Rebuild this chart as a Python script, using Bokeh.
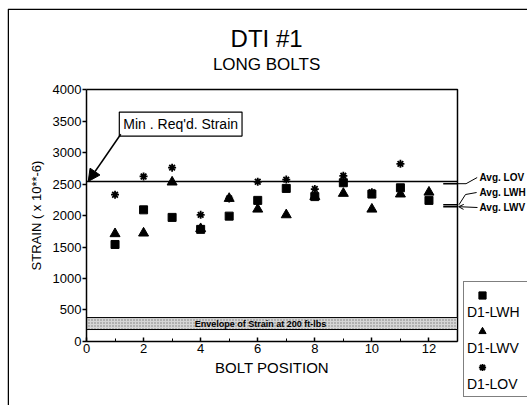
from bokeh.plotting import figure
from bokeh.models import (Label, Arrow, NormalHead, OpenHead, Legend, LegendItem,
                          FixedTicker, Range1d)
from bokeh.embed import file_html
from bokeh.resources import INLINE

nan = float("nan")

bolt_position = [1, 2, 3, 4, 5, 6, 7, 8, 9, 10, 11, 12]
d1_lwh = [1540, 2090, 1970, 1780, 1990, 2240, 2430, 2300, 2520, 2340, 2440, 2240]
d1_lwv = [1710, 1720, 2530, 1790, 2270, 2100, 2010, 2300, 2350, 2100, 2340, 2370]
d1_lov = [2330, 2620, 2760, 2010, 2270, 2535, 2570, 2420, 2630, 2370, 2820, nan]

min_reqd_strain = 2540
avg_lov = 2505
avg_lwh = 2170
avg_lwv = 2140
envelope_low = 190
envelope_high = 380

x_min, x_max = 0, 13
y_min, y_max = 0, 4000
y_ticks = [0, 500, 1000, 1500, 2000, 2500, 3000, 3500, 4000]
x_ticks = [0, 2, 4, 6, 8, 10, 12]
legend_labels = ["D1-LWH", "D1-LWV", "D1-LOV"]
avg_labels = ["Avg. LOV", "Avg. LWH", "Avg. LWV"]

FONT = "Liberation Sans"

# page-box range (frame fills the page box; data area is a sub-rectangle)
page_x = (-2.768, 15.453)
page_y = (-1016, 5286)

p = figure(width=527, height=405, output_backend="svg", toolbar_location=None,
           title=None, x_range=Range1d(*page_x), y_range=Range1d(*page_y),
           min_border_left=7, min_border_right=0, min_border_top=8,
           min_border_bottom=0)
p.grid.visible = False
p.outline_line_color = None
p.background_fill_color = "white"
p.border_fill_color = "white"

# outer sheet border: left and top edges only
p.line([page_x[0] + 0.026, page_x[0] + 0.026, page_x[1]],
       [page_y[0], page_y[1] - 12, page_y[1] - 12], line_color="black", line_width=1.5)

p.xaxis.fixed_location = 0
p.yaxis.fixed_location = 0
p.xaxis.bounds = (x_min, x_max)
p.yaxis.bounds = (y_min, y_max)
p.xaxis.ticker = FixedTicker(ticks=x_ticks, minor_ticks=list(range(0, 14)))
p.yaxis.ticker = FixedTicker(ticks=y_ticks)
for ax in (p.xaxis, p.yaxis):
    ax.axis_line_color = "black"
    ax.axis_line_width = 1.5
    ax.major_tick_line_color = "black"
    ax.major_tick_line_width = 1.5
    ax.minor_tick_line_color = "black"
    ax.major_label_text_font = FONT
    ax.major_label_text_font_size = "13px"
    ax.major_label_text_color = "black"
    ax.axis_label_text_font = FONT
    ax.axis_label_text_font_style = "normal"
    ax.axis_label_text_color = "black"
p.xaxis.major_tick_in = 4
p.xaxis.major_tick_out = 0
p.xaxis.minor_tick_in = 3
p.xaxis.minor_tick_out = 0
p.xaxis.major_label_standoff = 3
p.xaxis.axis_label = "BOLT POSITION"
p.xaxis.axis_label_text_font_size = "15px"
p.xaxis.axis_label_standoff = 2
p.yaxis.major_tick_in = 0
p.yaxis.major_tick_out = 4
p.yaxis.minor_tick_line_color = None
p.yaxis.major_label_standoff = 1
p.yaxis.axis_label = "STRAIN ( x 10**-6)"
p.yaxis.axis_label_text_font_size = "13px"
p.yaxis.axis_label_standoff = 6

# top and right edges of the data box
p.line([x_min, x_max, x_max], [y_max, y_max, y_min], line_color="black", line_width=1.5)

# titles
p.add_layout(Label(x=6.31, y=4810, text="DTI #1", text_font=FONT, text_font_size="24px",
                   text_align="center", text_baseline="middle", text_color="black"))
p.add_layout(Label(x=6.31, y=4397, text="LONG BOLTS", text_font=FONT,
                   text_font_size="17px", text_align="center", text_baseline="middle",
                   text_color="black"))

# envelope band
p.quad(left=x_min, right=x_max, bottom=envelope_low, top=envelope_high,
       fill_color="#d6d6d6", hatch_pattern="dot", hatch_color="#7a7a7a",
       hatch_scale=3, line_color="black", line_width=1)
p.add_layout(Label(x=6.1, y=(envelope_low + envelope_high) / 2,
                   text="Envelope of Strain at 200 ft-lbs",
                   text_font=FONT, text_font_size="9px", text_font_style="bold",
                   text_align="center", text_baseline="middle", text_color="black"))

# minimum required strain line
p.line([x_min, x_max], [min_reqd_strain, min_reqd_strain], line_color="black",
       line_width=1.5)

# average marks at the right edge, with leaders to their labels
for v in (avg_lov, avg_lwh, avg_lwv):
    p.line([12.5, 13], [v, v], line_color="black", line_width=1.5)
p.line([13.0, 13.3, 13.69], [avg_lov, avg_lov, 2603], line_color="black", line_width=1)
p.line([13.05, 13.28, 13.67], [avg_lwh, 2333, 2365], line_color="black", line_width=1)
p.add_layout(Arrow(end=OpenHead(size=5, line_color="black", line_width=1),
                   x_start=13.7, y_start=2127, x_end=13.04, y_end=avg_lwv,
                   line_color="black", line_width=1))
for txt, yv in zip(avg_labels, (2603, 2365, 2127)):
    p.add_layout(Label(x=13.77, y=yv, text=txt, text_font=FONT, text_font_size="10px",
                       text_font_style="bold", text_baseline="middle", text_color="black"))

# data
r_lwv = p.scatter(bolt_position, d1_lwv, marker="triangle", size=10,
                  fill_color="black", line_color="black")
r_lwh = p.scatter(bolt_position, d1_lwh, marker="square", size=8,
                  fill_color="black", line_color="black")
r_lov = p.scatter(bolt_position, d1_lov, marker="asterisk", size=8,
                  line_color="black", line_width=1.8)
r_none = p.scatter([], [], marker="square", size=1, fill_alpha=0, line_alpha=0)

# callout
p.add_layout(Label(x=1.15, y=3452, text="Min . Req'd. Strain", text_font=FONT,
                   text_font_size="14px", text_baseline="middle", text_color="black",
                   border_line_color="black", border_line_width=1.2,
                   background_fill_color="white", padding=4))
p.add_layout(Arrow(end=NormalHead(size=12, fill_color="black", line_color="black"),
                   x_start=1.2, y_start=3290, x_end=0.06, y_end=min_reqd_strain,
                   line_color="black", line_width=1.5))

# legend: a box of labels, with the markers stacked above each label
leg_text = Legend(items=[LegendItem(label=" ", renderers=[r_none]),
                         LegendItem(label=legend_labels[0], renderers=[r_none]),
                         LegendItem(label=" ", renderers=[r_none]),
                         LegendItem(label=legend_labels[1], renderers=[r_none]),
                         LegendItem(label=" ", renderers=[r_none]),
                         LegendItem(label=legend_labels[2], renderers=[r_none])],
                  location=(456, 8), glyph_width=0, glyph_height=18, label_height=18,
                  label_width=60, label_standoff=0, padding=3, spacing=0, margin=0,
                  label_text_font=FONT, label_text_font_size="14px",
                  label_text_color="black", border_line_color="black",
                  border_line_width=1.2, background_fill_color="white",
                  background_fill_alpha=1)
leg_marks = Legend(items=[LegendItem(label=" ", renderers=[r_lwh]),
                          LegendItem(label=" ", renderers=[r_lwv]),
                          LegendItem(label=" ", renderers=[r_lov])],
                   location=(465, 29), glyph_width=20, glyph_height=18, label_height=18,
                   label_width=0, label_standoff=0, padding=0, spacing=18, margin=0,
                   label_text_font_size="1px", border_line_alpha=0,
                   background_fill_alpha=0)
p.add_layout(leg_text, "center")
p.add_layout(leg_marks, "center")

open("out.html", "w").write(file_html(p, INLINE))
